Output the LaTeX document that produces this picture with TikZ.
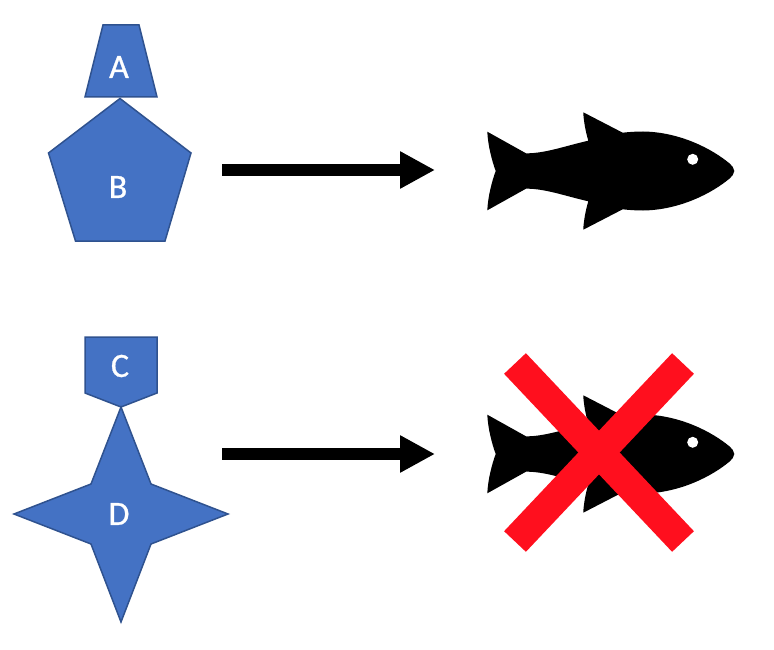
\documentclass[tikz,border=0pt]{standalone}
\usepackage{fontspec}
\setmainfont{Carlito}
\newfontfamily\letterfont[FakeBold=0.8]{Carlito}
\usetikzlibrary{arrows.meta}

\definecolor{shapefill}{HTML}{4472C4}
\definecolor{shapeline}{HTML}{2F528F}
\definecolor{crossred}{HTML}{FF0F1E}

\tikzset{
  block/.style={fill=shapefill,draw=shapeline,line width=1.5pt,line join=miter},
  letter/.style={text=white,font=\letterfont\fontsize{34}{34}\selectfont,inner sep=0pt},
  bigarrow/.style={line width=12pt,-{Triangle[length=35pt,width=35pt]}},
  crossbar/.style={crossred,line width=30pt},
  fish/.pic={
    \fill[black] (734.3,0) .. controls (734.3,-3) and (732,-5) .. (729,-8)
      .. controls (712,-22) and (680,-39) .. (643,-39.5)
      .. controls (636,-39.5) and (629,-39) .. (622.7,-38.3) -- (583.3,-58.7)
      .. controls (583.5,-50) and (586,-38) .. (588.3,-30.3)
      .. controls (565,-25) and (545,-17.5) .. (526,-17.7) -- (487.3,-39.3)
      .. controls (488,-25) and (492,-10) .. (495.7,0)
      .. controls (492,10) and (488,25) .. (487.3,39.3) -- (526,17.7)
      .. controls (545,17.5) and (565,25) .. (588.3,30.3)
      .. controls (586,38) and (583.5,50) .. (583.3,58.7) -- (622.7,38.3)
      .. controls (629,39) and (636,39.5) .. (643,39.5)
      .. controls (680,39) and (712,22) .. (729,8)
      .. controls (732,5) and (734.3,3) .. (734.3,0) -- cycle;
    \fill[white] (692.7,-11.7) circle (5.5);
  }
}

\begin{document}
\begin{tikzpicture}[x=1pt,y=-1pt]
  \useasboundingbox (0,0) rectangle (774,650);

  % Shapes
  \draw[block] (103,25) -- (139,25) -- (157,97) -- (85,97) -- cycle;
  \draw[block] (120,98.5) -- (191,153) -- (165,241) -- (75.5,241) -- (48.5,153) -- cycle;
  \draw[block] (85,337) -- (157,337) -- (157,393) -- (121,407) -- (85,393) -- cycle;
  \draw[block] (121,407) -- (151,484) -- (228,514) -- (151,544) -- (121,622)
    -- (91,544) -- (14,514) -- (91,484) -- cycle;

  % Labels
  \node[letter] (a) at (119,67)  {A};
  \node[letter] (b) at (118,187) {B};
  \node[letter] (c) at (120,366) {C};
  \node[letter] (d) at (119,514) {D};

  % Fish
  \pic (fish-top) at (0,171) {fish};
  \pic (fish-bot) at (0,454) {fish};

  % Arrows
  \coordinate (top-s) at (222,170);
  \coordinate (top-t) at (435,170);
  \coordinate (bot-s) at (222,454);
  \coordinate (bot-t) at (435,454);
  \draw[bigarrow] (top-s) -- (top-t);
  \draw[bigarrow] (bot-s) -- (bot-t);

  % Cross
  \coordinate (x-tl) at (515,363.5);
  \coordinate (x-br) at (683,541.5);
  \coordinate (x-tr) at (683,363.5);
  \coordinate (x-bl) at (515,541.5);
  \draw[crossbar] (x-tl) -- (x-br);
  \draw[crossbar] (x-tr) -- (x-bl);
\end{tikzpicture}
\end{document}
